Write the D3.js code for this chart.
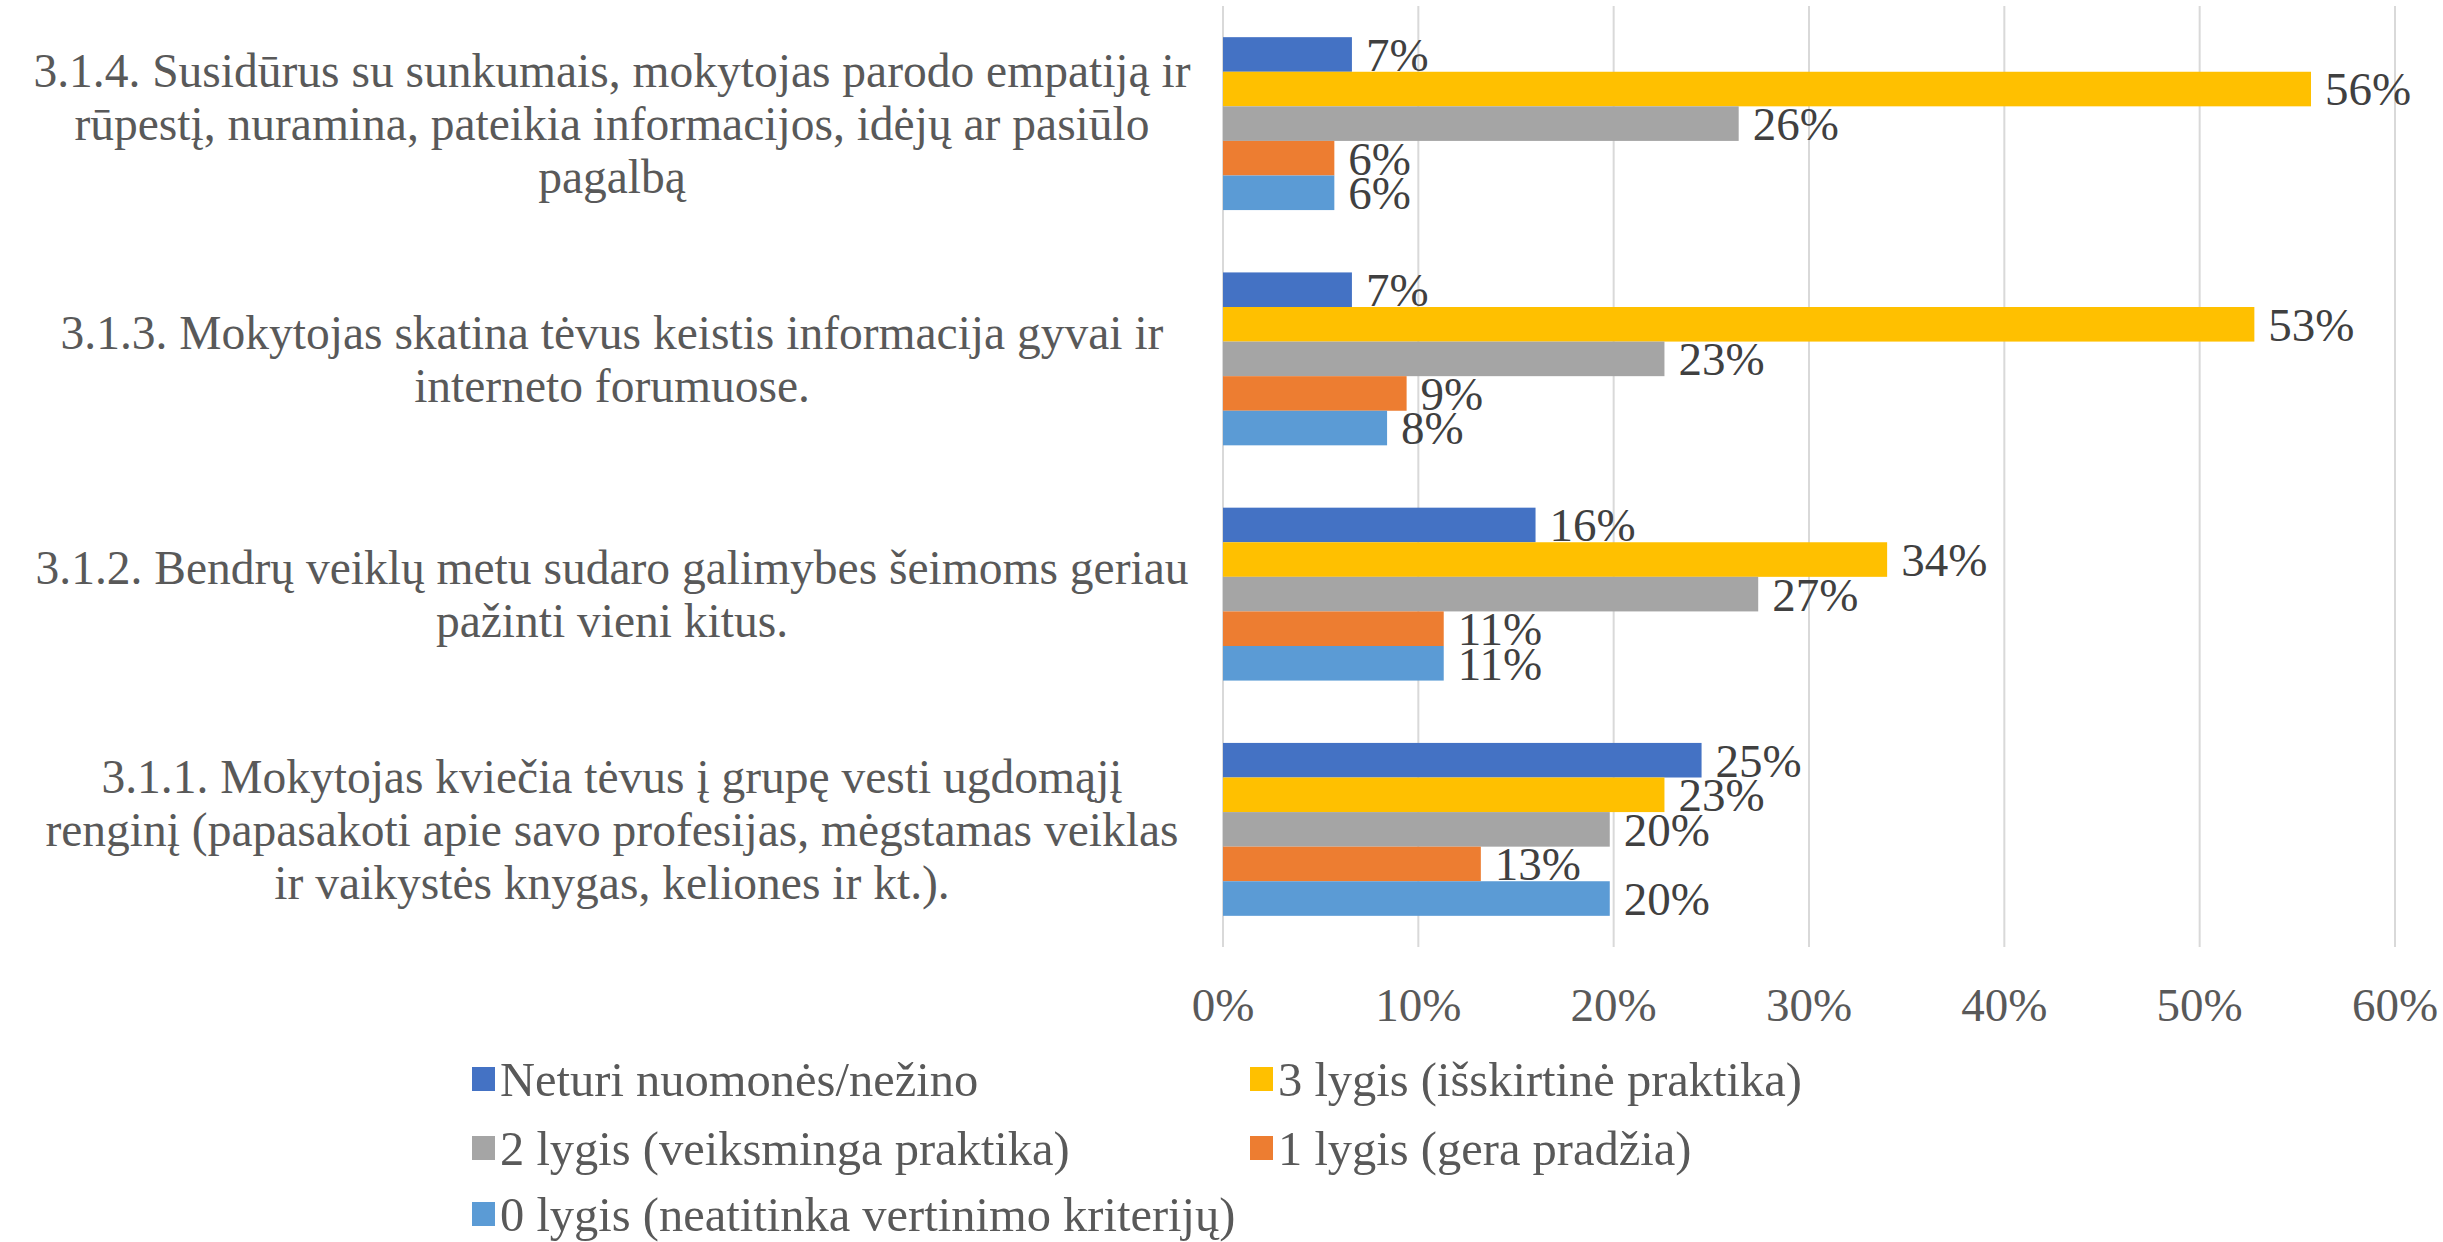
<!DOCTYPE html>
<html>
<head>
<meta charset="utf-8">
<script src="https://cdn.jsdelivr.net/npm/d3@7"></script>
<style>
  body { margin: 0; background: #fff; }
  text { font-family: "Liberation Serif", "Times New Roman", serif; }
</style>
</head>
<body>
<div id="chart"></div>
<script>
// categories, top to bottom as drawn (pre-wrapped like the original)
const categories = [
  ["3.1.4. Susidūrus su sunkumais, mokytojas parodo empatiją ir", "rūpestį, nuramina, pateikia informacijos, idėjų ar pasiūlo", "pagalbą"],
  ["3.1.3. Mokytojas skatina tėvus keistis informacija gyvai ir", "interneto forumuose."],
  ["3.1.2. Bendrų veiklų metu sudaro galimybes šeimoms geriau", "pažinti vieni kitus."],
  ["3.1.1. Mokytojas kviečia tėvus į grupę vesti ugdomąjį", "renginį (papasakoti apie savo profesijas, mėgstamas veiklas", "ir vaikystės knygas, keliones ir kt.)."]
];

const seriesNames = [
  "Neturi nuomonės/nežino",
  "3 lygis (išskirtinė praktika)",
  "2 lygis (veiksminga praktika)",
  "1 lygis (gera pradžia)",
  "0 lygis (neatitinka vertinimo kriterijų)"
];
const seriesColors = ["#4472C4", "#FFC000", "#A5A5A5", "#ED7D31", "#5B9BD5"];

// percent values per series, same order as categories
const neturi = [6.6, 6.6, 16.0, 24.5];
const lygis3 = [55.7, 52.8, 34.0, 22.6];
const lygis2 = [26.4, 22.6, 27.4, 19.8];
const lygis1 = [5.7, 9.4, 11.3, 13.2];
const lygis0 = [5.7, 8.4, 11.3, 19.8];
const seriesValues = [neturi, lygis3, lygis2, lygis1, lygis0];

const xTicks = [0, 10, 20, 30, 40, 50, 60];

const width = 2443;
const height = 1242;
const fontSize = 47;

const svg = d3.select("#chart")
  .append("svg")
  .attr("width", width)
  .attr("height", height);

// scales
const x = d3.scaleLinear().domain([0, 60]).range([1223, 2395]);
const y = d3.scaleBand()
  .domain(d3.range(categories.length))
  .range([6, 947])
  .paddingInner(0.265)
  .paddingOuter(0.1325);
const ySub = d3.scaleBand()
  .domain(d3.range(seriesNames.length))
  .range([0, y.bandwidth()]);

// gridlines
svg.append("g")
  .selectAll("line")
  .data(xTicks)
  .join("line")
  .attr("x1", d => x(d))
  .attr("x2", d => x(d))
  .attr("y1", 6)
  .attr("y2", 947)
  .attr("stroke", "#D9D9D9")
  .attr("stroke-width", 2);

// x axis labels
svg.append("g")
  .selectAll("text")
  .data(xTicks)
  .join("text")
  .attr("x", d => x(d))
  .attr("y", 1005)
  .attr("dy", "0.35em")
  .attr("text-anchor", "middle")
  .attr("font-size", fontSize)
  .attr("fill", "#595959")
  .text(d => d + "%");

// bars + labels
const groups = svg.append("g")
  .selectAll("g")
  .data(categories)
  .join("g")
  .attr("transform", (d, i) => `translate(0,${y(i)})`);

groups.each(function (cat, ci) {
  const g = d3.select(this);
  const rows = seriesValues.map((vals, si) => ({ si, v: vals[ci] }));

  g.selectAll("rect")
    .data(rows)
    .join("rect")
    .attr("x", x(0))
    .attr("y", d => ySub(d.si))
    .attr("width", d => x(d.v) - x(0))
    .attr("height", ySub.bandwidth())
    .attr("fill", d => seriesColors[d.si]);

  g.selectAll("text")
    .data(rows)
    .join("text")
    .attr("x", d => x(d.v) + 14)
    .attr("y", d => ySub(d.si) + ySub.bandwidth() / 2)
    .attr("dy", "0.35em")
    .attr("font-size", fontSize)
    .attr("fill", "#404040")
    .text(d => Math.round(d.v) + "%");
});

// category labels, centred multi-line
const lineH = 53;
svg.append("g")
  .selectAll("text")
  .data(categories)
  .join("text")
  .attr("text-anchor", "middle")
  .attr("font-size", 47.5)
  .attr("fill", "#595959")
  .each(function (lines, i) {
    const cy = y(i) + y.bandwidth() / 2;
    const top = cy - (lines.length - 1) * lineH / 2;
    d3.select(this)
      .selectAll("tspan")
      .data(lines)
      .join("tspan")
      .attr("x", 612)
      .attr("y", (d, j) => top + j * lineH)
      .attr("dy", "0.35em")
      .text(d => d);
  });

// legend
const legendPos = [
  { x: 472, y: 1079 },
  { x: 1250, y: 1079 },
  { x: 472, y: 1148 },
  { x: 1250, y: 1148 },
  { x: 472, y: 1214 }
];
const legend = svg.append("g")
  .selectAll("g")
  .data(seriesNames)
  .join("g")
  .attr("transform", (d, i) => `translate(${legendPos[i].x},${legendPos[i].y})`);

legend.append("rect")
  .attr("x", 0)
  .attr("y", -12)
  .attr("width", 23)
  .attr("height", 24)
  .attr("fill", (d, i) => seriesColors[i]);

legend.append("text")
  .attr("x", 28)
  .attr("dy", "0.35em")
  .attr("font-size", 48.5)
  .attr("fill", "#595959")
  .text(d => d);
</script>
</body>
</html>
